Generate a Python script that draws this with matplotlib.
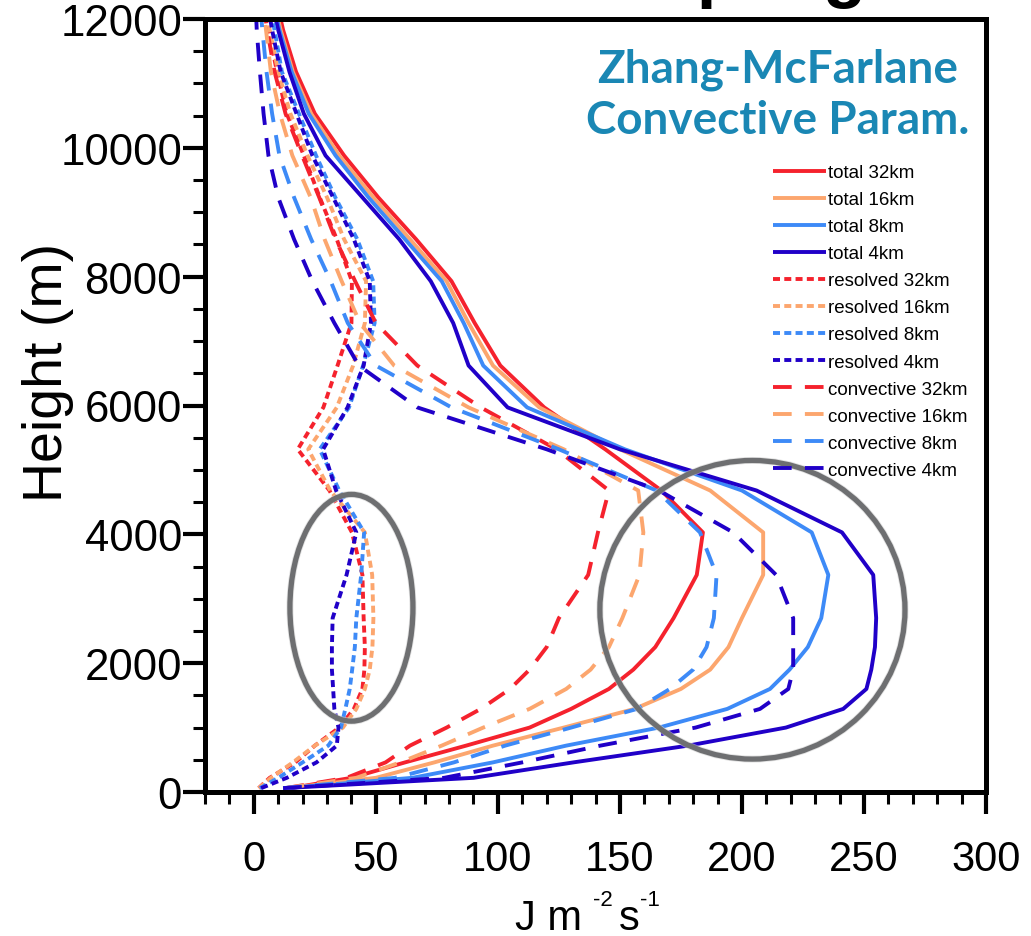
import matplotlib
matplotlib.use('Agg')
import matplotlib.pyplot as plt
from matplotlib.patches import Ellipse
from matplotlib.ticker import MultipleLocator

plt.rcParams['font.family'] = ['Liberation Sans', 'DejaVu Sans']

# ---------------- data ----------------
heights = [60, 220, 460, 720, 1000, 1290, 1600, 1900, 2250, 2700, 3370, 4030, 4680,
           5320, 5970, 6620, 7280, 7930, 8580, 9230, 9880, 10530, 11180, 11830, 12480]

total_32km = [15, 40, 62, 87, 113, 130, 145.5, 155.5, 164.5, 172, 181.5, 184, 167,
              144, 119, 101, 90.5, 81, 66.5, 51, 37, 25, 17.3, 12, 8]
total_16km = [14, 50, 74, 98, 127, 156, 175, 187, 194.5, 200, 208.7, 208.7, 187,
              150, 117, 98, 88, 79, 64, 49, 35, 23.5, 16, 11, 7]
total_8km = [13, 65, 98, 128, 166, 194, 211.5, 219.5, 227, 232.5, 235.4, 228.6, 200,
             152, 112, 94, 86, 77, 62, 47, 33.5, 22.5, 15.5, 10.5, 6.5]
total_4km = [12, 90, 131, 178, 218, 241.5, 251, 253, 254.5, 255, 253.8, 241, 206,
             150, 104, 88, 81.7, 72.5, 59.6, 44.5, 29.4, 20.5, 14.6, 10, 6]

resolved_32km = [2, 6.5, 17, 25, 35, 41, 44.5, 45.3, 45.5, 45, 44.5, 40.2, 31,
                 18, 28.5, 34.3, 40, 40.2, 34, 27, 20.5, 13.5, 9.5, 6, 4]
resolved_16km = [2, 7, 16, 25, 36.5, 42, 45.5, 47.5, 48.6, 49, 48.5, 45.5, 31.3,
                 22.3, 34, 40.7, 45.5, 46, 37, 30, 22, 15, 10, 6.5, 4]
resolved_8km = [2.5, 10, 20, 30.5, 35.7, 37.5, 39.3, 40.3, 41.4, 42, 44, 45.2, 35,
                27, 39, 44.8, 49.5, 48.9, 42.4, 33.4, 25.5, 18.5, 11.5, 8.5, 5]
resolved_4km = [3, 13.5, 25.7, 34, 34.7, 33, 32.5, 32, 32, 32.3, 38, 42, 33.7,
                28.4, 38.4, 45, 48, 47.5, 41, 32.5, 24, 17.5, 11, 7.5, 4.5]

convective_32km = [13, 38, 54, 64, 79, 93, 105, 113, 120, 125, 137, 141, 145.5,
                   124, 93, 67, 50, 41.5, 33.5, 26.8, 19.8, 13, 8.5, 5.5, 3]
convective_16km = [13, 42, 60, 77, 94, 113, 128, 138, 145.5, 151, 158, 159.6, 157.5,
                   127, 88, 57.5, 43.5, 36, 29, 23.3, 15.8, 10.7, 7, 5, 3]
convective_8km = [12, 58, 82, 103, 130, 157, 170.5, 180, 185.5, 188.5, 189.6, 182.8, 165,
                  125, 81, 50, 38.5, 31.5, 23.5, 16.5, 10.5, 7.5, 5.2, 3.5, 2]
convective_4km = [12, 78, 110, 142, 181, 207.4, 219, 221, 221, 221, 214, 196.4, 166,
                  120, 67, 43, 33, 24, 16.5, 10, 6, 4, 2.5, 1.2, 0.5]

resolutions = ['32km', '16km', '8km', '4km']
colors = ['#f5222d', '#fca66e', '#3d8af7', '#2000c8']
series = [
    ('total', [total_32km, total_16km, total_8km, total_4km], '-'),
    ('resolved', [resolved_32km, resolved_16km, resolved_8km, resolved_4km], (0, (1.8, 1.1))),
    ('convective', [convective_32km, convective_16km, convective_8km, convective_4km], (0, (4.8, 3.4))),
]

x_ticks = [0, 50, 100, 150, 200, 250, 300]
y_ticks = [0, 2000, 4000, 6000, 8000, 10000, 12000]

# highlight ellipses (data coords: centre x, centre y, width, height)
ellipse_small = (40, 2860, 50.4, 3520)
ellipse_big = (204.3, 2829, 125, 4636)

# ---------------- figure ----------------
W, H = 1031, 937
fig = plt.figure(figsize=(W / 100, H / 100), dpi=100)
ax = fig.add_axes([205 / W, 144 / H, 781 / W, 773 / H])

lw = 2.8
for kind, vals, ls in series:
    for res, col, v in zip(resolutions, colors, vals):
        ax.plot(v, heights, color=col, lw=lw, linestyle=ls,
                label=f'{kind} {res}', solid_capstyle='butt', dash_capstyle='butt')

ax.set_xlim(-20, 300)
ax.set_ylim(0, 12000)
ax.set_xticks(x_ticks)
ax.set_yticks(y_ticks)
ax.xaxis.set_minor_locator(MultipleLocator(10))
ax.yaxis.set_minor_locator(MultipleLocator(500))
ax.tick_params(which='major', direction='out', length=16, width=3,
               top=False, right=False)
ax.tick_params(which='minor', direction='out', length=8.5, width=2.2,
               top=False, right=False)
ax.tick_params(axis='x', which='major', pad=18, labelsize=30)
ax.tick_params(axis='y', which='major', pad=0.5, labelsize=31.5)
for s in ax.spines.values():
    s.set_linewidth(3.6)

for (cx, cy, ew, eh) in (ellipse_small, ellipse_big):
    ax.add_patch(Ellipse((cx, cy), ew, eh, fill=False, edgecolor='#cfcfcf',
                         lw=5, zorder=9, alpha=0.6))
    ax.add_patch(Ellipse((cx, cy), ew, eh, fill=False, edgecolor='#6e6f71',
                         lw=3.8, zorder=10))

leg = fig.legend(loc='upper left', bbox_to_anchor=(773 / W, 1 - 165 / H),
                 frameon=False, fontsize=13.5, handlelength=2.83, handletextpad=0.1,
                 labelspacing=0.53, borderpad=0, borderaxespad=0)

fig.text(48 / W, 1 - 372 / H, 'Height (m)', rotation=90, fontsize=40,
         ha='center', va='center')
# x-axis unit label  J m^-2 s^-1  (pieces with raised exponents)
base_y = 1 - 930 / H
sup_y = 1 - 906 / H
fig.text(515 / W, base_y, 'J m', fontsize=30, ha='left', va='baseline')
fig.text(593 / W, sup_y, '-2', fontsize=16, ha='left', va='baseline')
fig.text(619 / W, base_y, 's', fontsize=30, ha='left', va='baseline')
fig.text(640 / W, sup_y, '-1', fontsize=16, ha='left', va='baseline')

fig.text(778 / W, 1 - 95 / H, 'Zhang-McFarlane\nConvective Param.', ha='center',
         va='center', color='#1a87b4', fontsize=33, fontweight='bold',
         family=['Lato', 'DejaVu Sans'], linespacing=1.25)
# slide title, mostly above the visible area
fig.text(559 / W, 1 + 6 / H, 'Coupling', fontsize=51, fontweight='bold',
         ha='left', va='baseline', color='black')

fig.savefig('out.png', dpi=100)
